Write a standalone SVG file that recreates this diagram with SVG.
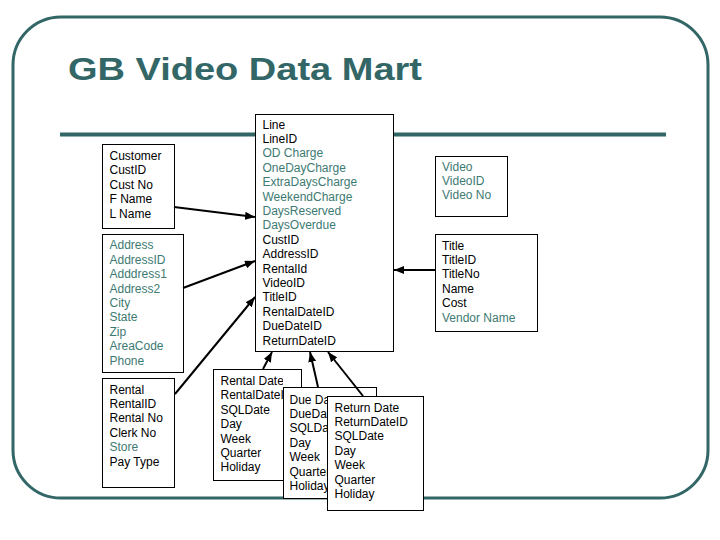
<svg xmlns="http://www.w3.org/2000/svg" width="720" height="540" viewBox="0 0 720 540">
<style>
.box{fill:#fff;stroke:#000;stroke-width:1}
.t{font-family:"Liberation Sans",Arial,sans-serif;font-size:12px;fill:#000}
.g{fill:#3d7a72}
.c{stroke:#000;stroke-width:2;fill:none;marker-end:url(#ah)}
</style>
<defs>
<marker id="ah" markerUnits="userSpaceOnUse" markerWidth="10" markerHeight="8" refX="10" refY="4" orient="auto">
<path d="M0,0 L10,4 L0,8 z" fill="#000"/>
</marker>
<clipPath id="clipRD"><rect x="214" y="370" width="69" height="110"/></clipPath>
<clipPath id="clipDD"><rect x="284" y="388" width="43" height="110"/></clipPath>
</defs>
<rect x="13" y="17" width="695" height="481" rx="48" ry="48" fill="none" stroke="#336666" stroke-width="3"/>
<line x1="60" y1="134.5" x2="666" y2="134.5" stroke="#336666" stroke-width="4"/>
<text x="68" y="80" font-family="'Liberation Sans',Arial,sans-serif" font-weight="bold" font-size="31" fill="#336666" textLength="354" lengthAdjust="spacingAndGlyphs">GB Video Data Mart</text>

<g id="line">
<rect class="box" x="255.5" y="114.5" width="138" height="237"/>
<text class="t" x="262.5" y="128.5">Line</text>
<text class="t" x="262.5" y="142.9">LineID</text>
<text class="t g" x="262.5" y="157.3">OD Charge</text>
<text class="t g" x="262.5" y="171.7">OneDayCharge</text>
<text class="t g" x="262.5" y="186.1">ExtraDaysCharge</text>
<text class="t g" x="262.5" y="200.5">WeekendCharge</text>
<text class="t g" x="262.5" y="214.9">DaysReserved</text>
<text class="t g" x="262.5" y="229.3">DaysOverdue</text>
<text class="t" x="262.5" y="243.7">CustID</text>
<text class="t" x="262.5" y="258.1">AddressID</text>
<text class="t" x="262.5" y="272.5">RentalId</text>
<text class="t" x="262.5" y="286.9">VideoID</text>
<text class="t" x="262.5" y="301.3">TitleID</text>
<text class="t" x="262.5" y="315.7">RentalDateID</text>
<text class="t" x="262.5" y="330.1">DueDateID</text>
<text class="t" x="262.5" y="344.5">ReturnDateID</text>
</g>

<g id="customer">
<rect class="box" x="102.5" y="144.5" width="72" height="84"/>
<text class="t" x="109.5" y="160">Customer</text>
<text class="t" x="109.5" y="174.4">CustID</text>
<text class="t" x="109.5" y="188.8">Cust No</text>
<text class="t" x="109.5" y="203.2">F Name</text>
<text class="t" x="109.5" y="217.6">L Name</text>
</g>

<g id="address">
<rect class="box" x="102.5" y="234.5" width="81" height="138"/>
<text class="t g" x="109.5" y="249.3">Address</text>
<text class="t g" x="109.5" y="263.7">AddressID</text>
<text class="t g" x="109.5" y="278.1">Adddress1</text>
<text class="t g" x="109.5" y="292.5">Address2</text>
<text class="t g" x="109.5" y="306.9">City</text>
<text class="t g" x="109.5" y="321.3">State</text>
<text class="t g" x="109.5" y="335.7">Zip</text>
<text class="t g" x="109.5" y="350.1">AreaCode</text>
<text class="t g" x="109.5" y="364.5">Phone</text>
</g>

<g id="rental">
<rect class="box" x="102.5" y="378.5" width="72" height="109"/>
<text class="t" x="109.5" y="393.5">Rental</text>
<text class="t" x="109.5" y="407.9">RentalID</text>
<text class="t" x="109.5" y="422.3">Rental No</text>
<text class="t" x="109.5" y="436.7">Clerk No</text>
<text class="t g" x="109.5" y="451.1">Store</text>
<text class="t" x="109.5" y="465.5">Pay Type</text>
</g>

<g id="video">
<rect class="box" x="435.5" y="156.5" width="72" height="60"/>
<text class="t g" x="442" y="170.5">Video</text>
<text class="t g" x="442" y="184.9">VideoID</text>
<text class="t g" x="442" y="199.3">Video No</text>
</g>

<g id="title">
<rect class="box" x="435.5" y="234.5" width="102" height="97"/>
<text class="t" x="442" y="249.5">Title</text>
<text class="t" x="442" y="263.9">TitleID</text>
<text class="t" x="442" y="278.3">TitleNo</text>
<text class="t" x="442" y="292.7">Name</text>
<text class="t" x="442" y="307.1">Cost</text>
<text class="t g" x="442" y="321.5">Vendor Name</text>
</g>

<g id="rentaldate">
<rect class="box" x="213.5" y="369.5" width="88" height="111"/>
<g clip-path="url(#clipRD)">
<text class="t" x="220.5" y="385">Rental Date</text>
<text class="t" x="220.5" y="399.4">RentalDateID</text>
<text class="t" x="220.5" y="413.8">SQLDate</text>
<text class="t" x="220.5" y="428.2">Day</text>
<text class="t" x="220.5" y="442.6">Week</text>
<text class="t" x="220.5" y="457">Quarter</text>
<text class="t" x="220.5" y="471.4">Holiday</text>
</g>
</g>

<g id="duedate">
<rect class="box" x="283.5" y="387.5" width="93" height="111"/>
<g clip-path="url(#clipDD)">
<text class="t" x="289.5" y="403.5">Due Date</text>
<text class="t" x="289.5" y="417.9">DueDateID</text>
<text class="t" x="289.5" y="432.3">SQLDate</text>
<text class="t" x="289.5" y="446.7">Day</text>
<text class="t" x="289.5" y="461.1">Week</text>
<text class="t" x="289.5" y="475.5">Quarter</text>
<text class="t" x="289.5" y="489.9">Holiday</text>
</g>
</g>

<g id="returndate">
<rect class="box" x="327.5" y="396.5" width="96" height="114"/>
<text class="t" x="334.5" y="411.5">Return Date</text>
<text class="t" x="334.5" y="425.9">ReturnDateID</text>
<text class="t" x="334.5" y="440.3">SQLDate</text>
<text class="t" x="334.5" y="454.7">Day</text>
<text class="t" x="334.5" y="469.1">Week</text>
<text class="t" x="334.5" y="483.5">Quarter</text>
<text class="t" x="334.5" y="497.9">Holiday</text>
</g>

<g id="connectors">
<line class="c" x1="174" y1="207" x2="255" y2="217"/>
<line class="c" x1="183" y1="288" x2="255" y2="261"/>
<line class="c" x1="175" y1="394" x2="255" y2="297"/>
<line class="c" x1="263" y1="369" x2="272" y2="352"/>
<line class="c" x1="318" y1="387" x2="310" y2="352"/>
<line class="c" x1="363" y1="396" x2="328" y2="352"/>
<line class="c" x1="435" y1="270" x2="394" y2="270"/>
</g>
</svg>
